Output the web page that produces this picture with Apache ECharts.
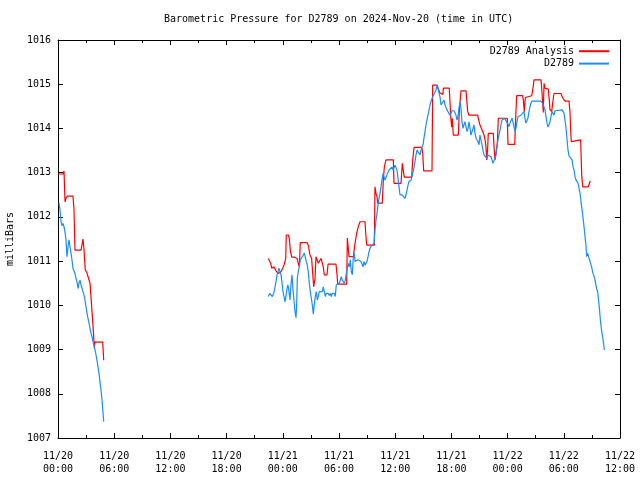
<!DOCTYPE html>
<html>
<head>
<meta charset="utf-8">
<script src="https://cdn.jsdelivr.net/npm/echarts@6/dist/echarts.min.js"></script>
<style>html,body{margin:0;padding:0;background:#fff}#chart{width:640px;height:480px}</style>
</head>
<body>
<div id="chart"></div>
<script>
const titleText = 'Barometric Pressure for D2789 on 2024-Nov-20 (time in UTC)';
const yAxisName = 'milliBars';
const seriesNames = ['D2789 Analysis', 'D2789'];
// x axis: hours since 2024-11-20 00:00 UTC
const xTickLabels = ['11/20\n00:00','11/20\n06:00','11/20\n12:00','11/20\n18:00','11/21\n00:00','11/21\n06:00','11/21\n12:00','11/21\n18:00','11/22\n00:00','11/22\n06:00','11/22\n12:00'];
const yTickValues = [1007,1008,1009,1010,1011,1012,1013,1014,1015,1016];

// [hour, mbar]
const analysisSeg1 = [[0,1012.97],[0.53,1012.97],[0.64,1013.04],[0.75,1012.34],[0.85,1012.42],[0.99,1012.47],[1.60,1012.47],[1.71,1012.16],[1.81,1011.25],[2.46,1011.25],[2.53,1011.29],[2.67,1011.5],[2.78,1011.25],[2.91,1010.8],[3.06,1010.75],[3.23,1010.78],[3.42,1010.5],[3.60,1010.5],[3.77,1009.44],[3.88,1009.03],[3.95,1009.17],[4.77,1009.17],[4.88,1008.76]];
const analysisSeg2 = [[22.45,1011.06],[22.60,1011.05],[22.71,1010.95],[22.81,1010.84],[22.92,1010.87],[23.06,1010.87],[23.17,1010.84],[23.27,1010.78],[23.38,1010.76],[23.52,1010.72],[23.70,1010.72],[23.81,1010.76],[23.95,1010.82],[24.05,1010.87],[24.16,1010.93],[24.31,1011.06],[24.37,1011.59],[24.59,1011.59],[24.69,1011.52],[24.80,1011.25],[24.95,1011.09],[25.23,1011.09],[25.38,1011.06],[25.52,1011.06],[25.65,1010.95],[25.76,1010.87],[25.87,1011.42],[26.58,1011.42],[26.72,1011.36],[26.90,1011.14],[27.08,1011.06],[27.19,1010.72],[27.30,1010.42],[27.44,1010.61],[27.54,1011.1],[27.68,1011.1],[27.79,1010.95],[27.94,1010.91],[28.08,1011.06],[28.18,1010.99],[28.32,1010.87],[28.43,1010.69],[28.72,1010.69],[28.83,1010.93],[29.68,1010.93],[29.79,1010.69],[29.86,1010.48],[30.82,1010.48],[30.89,1011.52],[30.99,1011.29],[31.07,1011.1],[31.53,1011.1],[31.71,1011.4],[31.89,1011.63],[32.06,1011.78],[32.24,1011.89],[32.78,1011.89],[32.85,1011.63],[32.96,1011.36],[33.77,1011.36],[33.84,1012.68],[33.95,1012.53],[34.06,1012.46],[34.13,1012.31],[34.62,1012.31],[34.73,1012.83],[34.84,1013.13],[35.02,1013.29],[35.80,1013.29],[35.87,1012.76],[36.62,1012.76],[36.76,1013.21],[36.86,1013.06],[36.97,1012.9],[37.76,1012.9],[37.87,1013.29],[38.01,1013.57],[38.83,1013.57],[38.94,1013.44],[39.04,1013.04],[39.93,1013.04],[40.00,1014.98],[40.49,1014.98],[40.57,1014.91],[40.78,1014.8],[41.10,1014.77],[41.13,1014.91],[41.77,1014.91],[41.85,1014.6],[41.92,1014.28],[42.03,1014.03],[42.10,1014.23],[42.20,1013.85],[42.74,1013.85],[42.84,1014.38],[43.02,1014.85],[43.56,1014.85],[43.64,1014.64],[43.74,1014.38],[43.88,1014.3],[44.81,1014.3],[44.87,1014.23],[45.05,1014.08],[45.23,1014.05],[45.34,1013.93],[45.48,1013.85],[45.59,1013.74],[45.69,1013.59],[45.77,1013.29],[45.87,1013.55],[45.94,1013.89],[46.47,1013.89],[46.55,1013.59],[46.65,1013.29],[46.76,1013.32],[46.90,1013.66],[47.01,1014.23],[47.97,1014.23],[48.04,1013.64],[48.76,1013.64],[48.86,1014.23],[48.97,1014.74],[49.61,1014.74],[49.68,1014.64],[49.78,1014.38],[49.89,1014.7],[49.96,1014.74],[50.57,1014.74],[50.68,1014.87],[50.82,1015.1],[51.57,1015.1],[51.75,1014.57],[51.81,1014.36],[51.89,1015.02],[51.99,1014.91],[52.10,1014.89],[52.34,1014.89],[52.45,1014.64],[52.52,1014.43],[52.71,1014.38],[52.81,1014.57],[52.95,1014.79],[53.70,1014.79],[53.81,1014.73],[53.95,1014.67],[54.13,1014.62],[54.55,1014.62],[54.66,1014.38],[54.74,1013.93],[54.80,1013.7],[54.91,1013.74],[55.80,1013.74],[55.91,1012.95],[56.02,1012.68],[56.61,1012.68],[56.72,1012.72],[56.83,1012.81]];

const stationSeg1 = [[0.11,1012.31],[0.21,1012.16],[0.32,1011.9],[0.43,1011.8],[0.53,1011.85],[0.64,1011.78],[0.75,1011.66],[0.85,1011.48],[0.96,1011.1],[1.07,1011.33],[1.17,1011.48],[1.28,1011.33],[1.39,1011.18],[1.49,1011.03],[1.60,1010.84],[1.71,1010.8],[1.81,1010.72],[1.92,1010.61],[2.03,1010.53],[2.14,1010.38],[2.24,1010.5],[2.35,1010.57],[2.46,1010.46],[2.56,1010.42],[2.67,1010.31],[2.78,1010.23],[2.88,1010.12],[2.99,1009.97],[3.10,1009.82],[3.20,1009.71],[3.31,1009.6],[3.42,1009.48],[3.52,1009.37],[3.63,1009.29],[3.74,1009.18],[3.84,1009.1],[3.95,1008.99],[4.06,1008.88],[4.16,1008.76],[4.27,1008.61],[4.38,1008.46],[4.48,1008.27],[4.59,1008.08],[4.70,1007.86],[4.80,1007.59],[4.88,1007.37]];
const stationSeg2 = [[22.45,1010.2],[22.60,1010.27],[22.74,1010.23],[22.88,1010.2],[23.03,1010.27],[23.17,1010.42],[23.27,1010.53],[23.38,1010.69],[23.49,1010.76],[23.59,1010.84],[23.70,1010.84],[23.81,1010.69],[23.91,1010.53],[24.02,1010.31],[24.13,1010.2],[24.23,1010.08],[24.34,1010.2],[24.45,1010.38],[24.55,1010.46],[24.66,1010.31],[24.77,1010.12],[24.87,1010.46],[24.98,1010.69],[25.09,1010.35],[25.19,1010.12],[25.30,1009.86],[25.41,1009.72],[25.48,1010.01],[25.55,1010.61],[25.65,1010.76],[25.76,1010.87],[25.87,1011.03],[25.97,1011.06],[26.08,1011.1],[26.19,1011.14],[26.30,1011.18],[26.40,1011.18],[26.51,1010.99],[26.62,1010.91],[26.72,1010.76],[26.83,1010.5],[26.94,1010.31],[27.04,1010.16],[27.15,1010.01],[27.26,1009.8],[27.36,1010.01],[27.47,1010.2],[27.58,1010.31],[27.68,1010.12],[27.79,1010.2],[27.90,1010.31],[28.00,1010.35],[28.11,1010.27],[28.22,1010.31],[28.32,1010.42],[28.43,1010.31],[28.54,1010.2],[28.64,1010.27],[28.75,1010.23],[28.86,1010.27],[28.96,1010.22],[29.07,1010.27],[29.18,1010.2],[29.28,1010.27],[29.39,1010.23],[29.50,1010.27],[29.60,1010.2],[29.71,1010.46],[29.82,1010.48],[29.92,1010.42],[30.03,1010.5],[30.14,1010.46],[30.25,1010.65],[30.35,1010.57],[30.46,1010.61],[30.57,1010.5],[30.67,1010.57],[30.78,1010.72],[30.89,1010.84],[30.99,1010.95],[31.10,1010.87],[31.21,1011.03],[31.31,1010.76],[31.42,1010.69],[31.53,1011.1],[31.63,1011.18],[31.71,1010.99],[31.81,1011.03],[31.92,1010.99],[32.03,1011.03],[32.13,1011.06],[32.24,1011.03],[32.35,1010.99],[32.46,1010.95],[32.56,1010.87],[32.67,1010.99],[32.78,1010.91],[32.88,1010.87],[32.99,1010.99],[33.10,1011.1],[33.20,1011.21],[33.31,1011.29],[33.42,1011.33],[33.52,1011.36],[33.63,1011.33],[33.74,1011.4],[33.84,1011.7],[33.95,1011.93],[34.06,1012.08],[34.16,1012.27],[34.27,1012.42],[34.38,1012.53],[34.48,1012.68],[34.59,1012.83],[34.70,1012.98],[34.80,1012.91],[34.91,1012.83],[35.02,1012.87],[35.12,1012.95],[35.23,1012.98],[35.34,1013.06],[35.44,1013.02],[35.55,1013.1],[35.66,1013.13],[35.76,1013.06],[35.87,1013.1],[35.98,1013.17],[36.09,1013.15],[36.19,1013.06],[36.30,1012.87],[36.41,1012.68],[36.51,1012.5],[36.62,1012.5],[36.73,1012.5],[36.83,1012.46],[36.94,1012.5],[37.05,1012.42],[37.15,1012.5],[37.26,1012.6],[37.37,1012.72],[37.47,1012.8],[37.58,1012.83],[37.69,1012.83],[37.79,1012.91],[37.90,1013.02],[38.01,1013.12],[38.11,1013.25],[38.22,1013.4],[38.33,1013.51],[38.43,1013.55],[38.54,1013.47],[38.65,1013.4],[38.75,1013.51],[38.86,1013.55],[38.97,1013.63],[39.07,1013.78],[39.18,1013.93],[39.29,1014.08],[39.39,1014.19],[39.50,1014.3],[39.61,1014.42],[39.72,1014.53],[39.82,1014.61],[39.93,1014.68],[40.03,1014.72],[40.14,1014.78],[40.25,1014.76],[40.36,1014.87],[40.46,1014.98],[40.57,1014.91],[40.68,1014.8],[40.78,1014.72],[40.89,1014.53],[41.00,1014.49],[41.10,1014.53],[41.21,1014.64],[41.32,1014.53],[41.42,1014.49],[41.53,1014.42],[41.64,1014.38],[41.74,1014.4],[41.85,1014.3],[41.96,1014.27],[42.06,1014.4],[42.17,1014.42],[42.28,1014.4],[42.38,1014.42],[42.49,1014.3],[42.60,1014.19],[42.70,1014.27],[42.81,1014.46],[42.92,1014.61],[43.02,1014.46],[43.13,1014.15],[43.24,1014.0],[43.34,1014.08],[43.45,1014.15],[43.56,1014.04],[43.67,1013.93],[43.77,1014.0],[43.88,1014.15],[43.99,1014.0],[44.09,1013.85],[44.20,1013.89],[44.31,1014.0],[44.41,1014.08],[44.52,1013.89],[44.63,1013.78],[44.73,1013.82],[44.84,1013.7],[44.95,1013.63],[45.05,1013.85],[45.16,1013.74],[45.27,1013.63],[45.37,1013.51],[45.48,1013.4],[45.59,1013.36],[45.69,1013.4],[45.80,1013.32],[45.91,1013.4],[46.01,1013.4],[46.12,1013.36],[46.23,1013.36],[46.33,1013.29],[46.44,1013.21],[46.55,1013.25],[46.65,1013.32],[46.76,1013.4],[46.87,1013.59],[46.97,1013.74],[47.08,1013.85],[47.19,1013.96],[47.29,1014.08],[47.40,1014.19],[47.51,1014.23],[47.61,1014.15],[47.72,1014.23],[47.83,1014.17],[47.93,1014.15],[48.04,1014.1],[48.15,1014.04],[48.25,1014.12],[48.36,1014.15],[48.47,1014.23],[48.57,1014.15],[48.68,1014.04],[48.79,1013.93],[48.89,1014.0],[49.00,1014.15],[49.11,1014.27],[49.21,1014.3],[49.32,1014.27],[49.43,1014.3],[49.53,1014.27],[49.64,1014.34],[49.75,1014.38],[49.85,1014.23],[49.96,1014.12],[50.07,1014.12],[50.17,1014.23],[50.28,1014.38],[50.39,1014.49],[50.49,1014.57],[50.60,1014.62],[50.71,1014.62],[51.56,1014.62],[51.78,1014.55],[51.89,1014.51],[51.99,1014.42],[52.10,1014.27],[52.21,1014.12],[52.31,1014.03],[52.42,1014.08],[52.53,1014.15],[52.63,1014.27],[52.74,1014.38],[52.85,1014.34],[52.95,1014.3],[53.06,1014.4],[53.17,1014.42],[53.81,1014.42],[53.92,1014.38],[54.03,1014.34],[54.13,1014.19],[54.24,1014.0],[54.35,1013.74],[54.45,1013.51],[54.56,1013.38],[54.67,1013.36],[54.77,1013.4],[54.88,1013.29],[54.99,1013.13],[55.09,1013.06],[55.20,1012.91],[55.31,1012.83],[55.42,1012.8],[55.52,1012.76],[55.63,1012.72],[55.74,1012.53],[55.84,1012.34],[55.95,1012.16],[56.06,1011.97],[56.16,1011.78],[56.27,1011.55],[56.38,1011.33],[56.43,1011.1],[56.54,1011.18],[56.65,1011.14],[56.75,1011.03],[56.86,1010.95],[56.97,1010.87],[57.07,1010.76],[57.18,1010.69],[57.29,1010.61],[57.39,1010.5],[57.50,1010.38],[57.61,1010.31],[57.71,1010.12],[57.82,1009.89],[57.92,1009.63],[58.03,1009.44],[58.14,1009.29],[58.25,1009.14],[58.33,1008.99]];

const gapHour = 12; // no data between segments

const FONT = 'DejaVu Sans Mono';
const chart = echarts.init(document.getElementById('chart'), null, {renderer: 'canvas'});

function joinSegments(a, b) {
  return a.concat([[gapHour, null]], b);
}

function xAxisDef(position, showLabels) {
  return {
    type: 'value', position: position, min: 0, max: 60, interval: 6,
    axisLine: {show: true, onZero: false, lineStyle: {color: '#000', width: 1}},
    axisTick: {show: true, inside: true, length: 5, lineStyle: {color: '#000'}},
    minorTick: {show: true, splitNumber: 2, length: 3, lineStyle: {color: '#000'}},
    splitLine: {show: false}, minorSplitLine: {show: false},
    axisLabel: {
      show: showLabels, showMinLabel: true, showMaxLabel: true, hideOverlap: false,
      formatter: v => xTickLabels[Math.round(v / 6)],
      fontFamily: FONT, fontSize: 10, color: '#000', margin: 12, lineHeight: 13
    }
  };
}
function yAxisDef(position, showLabels) {
  const d = {
    type: 'value', position: position, min: yTickValues[0], max: yTickValues[yTickValues.length - 1], interval: 1,
    axisLine: {show: true, onZero: false, lineStyle: {color: '#000', width: 1}},
    axisTick: {show: true, inside: true, length: 5, lineStyle: {color: '#000'}},
    splitLine: {show: false},
    axisLabel: {show: showLabels, showMinLabel: true, showMaxLabel: true, hideOverlap: false,
      formatter: v => String(Math.round(v)),
      fontFamily: FONT, fontSize: 10, color: '#000', margin: 7}
  };
  if (showLabels) {
    d.name = yAxisName;
    d.nameLocation = 'middle';
    d.nameRotate = 90;
    d.nameGap = 43;
    d.nameTextStyle = {fontFamily: FONT, fontSize: 10, color: '#000'};
  }
  return d;
}

chart.setOption({
  animation: false,
  backgroundColor: '#fff',
  title: {
    text: titleText, left: 164, top: 14, padding: 0,
    textStyle: {fontFamily: FONT, fontSize: 10, fontWeight: 'normal', color: '#000'}
  },
  legend: {
    data: seriesNames, orient: 'vertical', align: 'right', right: 30, top: 46, padding: 0,
    itemWidth: 30, itemHeight: 13, itemGap: 2,
    itemStyle: {opacity: 0},
    textStyle: {fontFamily: FONT, fontSize: 10, color: '#000'}
  },
  grid: {left: 58, right: 20, top: 40, bottom: 42, containLabel: false, outerBoundsMode: 'none'},
  xAxis: [xAxisDef('bottom', true), xAxisDef('top', false)],
  yAxis: [yAxisDef('left', true), yAxisDef('right', false)],
  series: [
    {
      name: seriesNames[0], type: 'line', xAxisIndex: 0, yAxisIndex: 0,
      data: joinSegments(analysisSeg1, analysisSeg2),
      symbol: 'none', showSymbol: false, connectNulls: false,
      lineStyle: {color: '#ff0000', width: 1.2}, itemStyle: {color: '#ff0000'},
      emphasis: {disabled: true}, silent: true
    },
    {
      name: seriesNames[1], type: 'line', xAxisIndex: 0, yAxisIndex: 0,
      data: joinSegments(stationSeg1, stationSeg2),
      symbol: 'none', showSymbol: false, connectNulls: false,
      lineStyle: {color: '#1a8cff', width: 1.2}, itemStyle: {color: '#1a8cff'},
      emphasis: {disabled: true}, silent: true
    }
  ]
});
</script>
</body>
</html>
